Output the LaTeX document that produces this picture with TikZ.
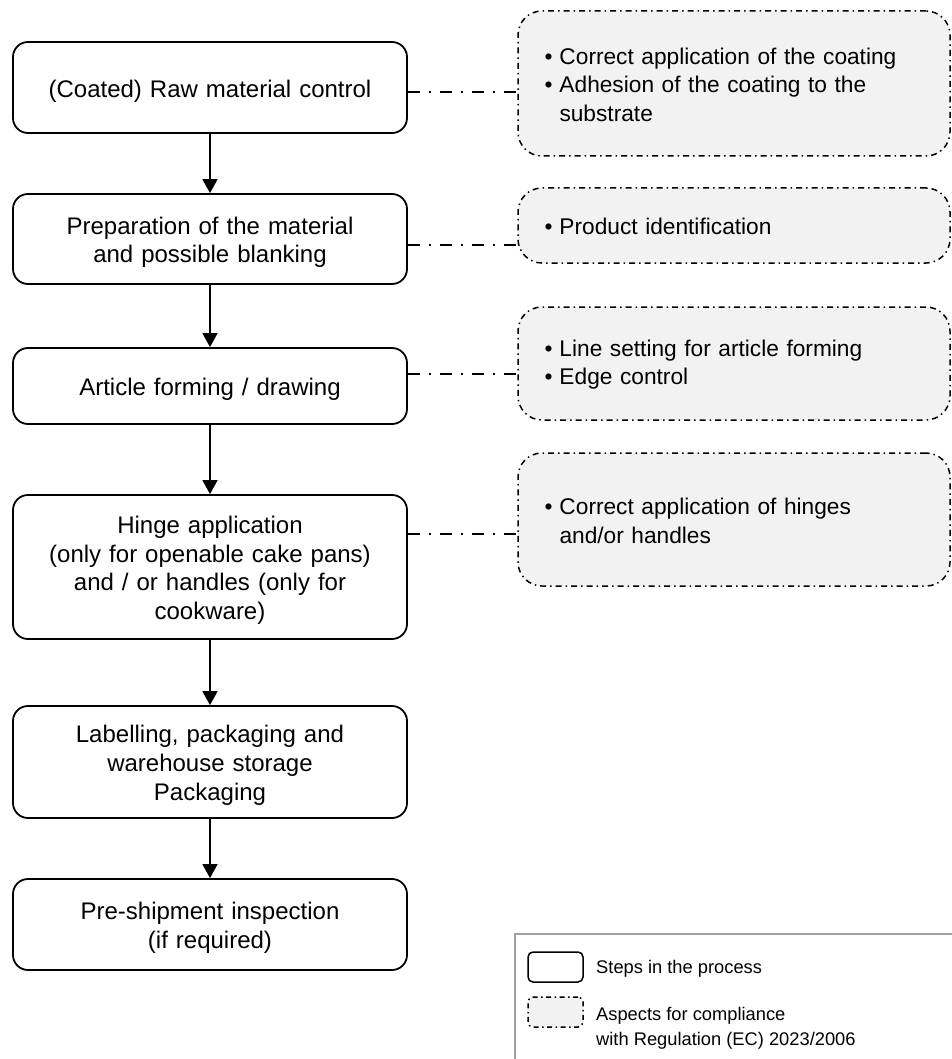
\documentclass[tikz,border=0pt]{standalone}
\usepackage{fontspec}
\setmainfont{Liberation Sans}
\usetikzlibrary{arrows.meta}

\definecolor{aspectfill}{HTML}{F2F2F2}
\definecolor{legendline}{HTML}{A0A0A0}

% bullet with a fixed indent, and the matching indent for continuation lines
\newcommand{\bul}{\makebox[15pt][l]{\textbullet}}
\newcommand{\cont}{\hspace*{15pt}}
% invisible struts giving the first line a little extra room above it
\newcommand{\headroom}{\rule{0pt}{24pt}}
\newcommand{\smallheadroom}{\rule{0pt}{19pt}}

\tikzset{
  stepbox/.style={draw=black, line width=1.8pt, rounded corners=15pt, fill=white,
    minimum width=394pt, text width=370pt, align=center, inner sep=0pt,
    font=\fontsize{24}{28.8}\selectfont},
  aspectbox/.style={draw=black, line width=1.5pt, rounded corners=24pt, fill=aspectfill,
    dash pattern=on 6pt off 4pt on 1.5pt off 4pt,
    minimum width=432pt, text width=379pt, inner xsep=26.5pt, inner ysep=0pt,
    align=left, font=\fontsize{22.7}{28.5}\selectfont},
  flow/.style={line width=1.5pt, -{Triangle[length=14pt,width=15pt]}},
  link/.style={line width=1.5pt, dash pattern=on 12pt off 9pt on 2pt off 9pt},
  keytext/.style={anchor=west, inner sep=0pt, align=left,
    font=\fontsize{18.3}{25}\selectfont},
}

\begin{document}
\begin{tikzpicture}[x=1pt, y=-1pt]
  \useasboundingbox (0,0) rectangle (951,1059);

  % process steps
  \node[stepbox, minimum height=91pt]  (b1) at (210,87.5)  {\headroom(Coated) Raw material control};
  \node[stepbox, minimum height=90pt]  (b2) at (210,239)   {\headroom Preparation of the material\\and possible blanking};
  \node[stepbox, minimum height=76pt]  (b3) at (210,386)   {\headroom Article forming / drawing};
  \node[stepbox, minimum height=144pt] (b4) at (210,567)   {\headroom Hinge application\\(only for openable cake pans)\\and / or handles (only for\\cookware)};
  \node[stepbox, minimum height=112pt] (b5) at (210,762)   {\headroom Labelling, packaging and\\warehouse storage\\Packaging};
  \node[stepbox, minimum height=91pt]  (b6) at (210,924.5) {\headroom Pre-shipment inspection\\(if required)};

  \draw[flow] (b1) -- (b2);
  \draw[flow] (b2) -- (b3);
  \draw[flow] (b3) -- (b4);
  \draw[flow] (b4) -- (b5);
  \draw[flow] (b5) -- (b6);

  % compliance aspects
  \node[aspectbox, minimum height=145pt] (a1) at (734,83.5)
    {\smallheadroom\bul Correct application of the coating\\\bul Adhesion of the coating to the\\\cont substrate};
  \node[aspectbox, minimum height=75pt]  (a2) at (734,225.5)
    {\smallheadroom\bul Product identification};
  \node[aspectbox, minimum height=113pt] (a3) at (734,363.5)
    {\smallheadroom\bul Line setting for article forming\\\bul Edge control};
  \node[aspectbox, minimum height=133pt] (a4) at (734,519.5)
    {\smallheadroom\bul Correct application of hinges\\\cont and/or handles};

  % heights of the step-to-aspect links
  \coordinate (k1) at (0,92);
  \coordinate (k2) at (0,245);
  \coordinate (k3) at (0,374);
  \coordinate (k4) at (0,534);
  \draw[link] (b1.east |- k1) -- (a1.west |- k1);
  \draw[link] (b2.east |- k2) -- (a2.west |- k2);
  \draw[link] (b3.east |- k3) -- (a3.west |- k3);
  \draw[link] (b4.east |- k4) -- (a4.west |- k4);

  % key
  \draw[legendline, line width=1.5pt] (515,1062) -- (515,934) -- (954,934);
  \node[draw=black, line width=1.5pt, rounded corners=5pt, fill=white,
        minimum width=55pt, minimum height=30pt, inner sep=0pt] (keystep) at (555.5,967) {};
  \node[draw=black, line width=1.5pt, rounded corners=5pt, fill=aspectfill,
        dash pattern=on 5pt off 3.5pt on 1.5pt off 3.5pt,
        minimum width=55pt, minimum height=30pt, inner sep=0pt] (keyaspect) at (555.5,1012) {};
  \node[keytext] (keysteplabel) at (596,969) {Steps in the process};
  \node[keytext] (keyaspectlabel) at (596,1028) {Aspects for compliance\\with Regulation (EC) 2023/2006};
\end{tikzpicture}
\end{document}
